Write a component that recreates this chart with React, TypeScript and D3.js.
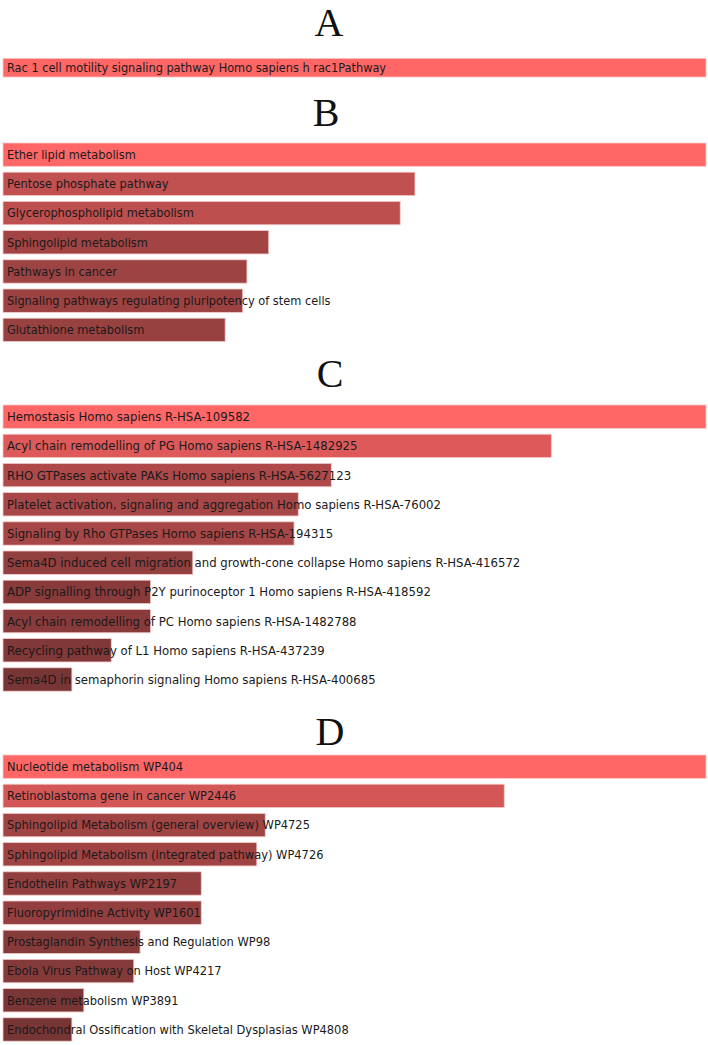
import React, { useEffect, useRef } from "react"
import * as d3 from "d3"

// panel titles
const panelTitles = ["A", "B", "C", "D"]

// A
const aLabels = ["Rac 1 cell motility signaling pathway Homo sapiens h rac1Pathway"]
const aValues = [1.0]

// B
const bLabels = [
  "Ether lipid metabolism",
  "Pentose phosphate pathway",
  "Glycerophospholipid metabolism",
  "Sphingolipid metabolism",
  "Pathways in cancer",
  "Signaling pathways regulating pluripotency of stem cells",
  "Glutathione metabolism",
]
const bValues = [1.0, 0.586, 0.565, 0.378, 0.347, 0.341, 0.316]

// C
const cLabels = [
  "Hemostasis Homo sapiens R-HSA-109582",
  "Acyl chain remodelling of PG Homo sapiens R-HSA-1482925",
  "RHO GTPases activate PAKs Homo sapiens R-HSA-5627123",
  "Platelet activation, signaling and aggregation Homo sapiens R-HSA-76002",
  "Signaling by Rho GTPases Homo sapiens R-HSA-194315",
  "Sema4D induced cell migration and growth-cone collapse Homo sapiens R-HSA-416572",
  "ADP signalling through P2Y purinoceptor 1 Homo sapiens R-HSA-418592",
  "Acyl chain remodelling of PC Homo sapiens R-HSA-1482788",
  "Recycling pathway of L1 Homo sapiens R-HSA-437239",
  "Sema4D in semaphorin signaling Homo sapiens R-HSA-400685",
]
const cValues = [1.0, 0.78, 0.467, 0.42, 0.414, 0.27, 0.21, 0.21, 0.154, 0.098]

// D
const dLabels = [
  "Nucleotide metabolism WP404",
  "Retinoblastoma gene in cancer WP2446",
  "Sphingolipid Metabolism (general overview) WP4725",
  "Sphingolipid Metabolism (integrated pathway) WP4726",
  "Endothelin Pathways WP2197",
  "Fluoropyrimidine Activity WP1601",
  "Prostaglandin Synthesis and Regulation WP98",
  "Ebola Virus Pathway on Host WP4217",
  "Benzene metabolism WP3891",
  "Endochondral Ossification with Skeletal Dysplasias WP4808",
]
const dValues = [1.0, 0.713, 0.373, 0.361, 0.282, 0.282, 0.195, 0.186, 0.115, 0.098]

const W = 708
const H = 1045

function App() {
  const svgRef = useRef(null)

  useEffect(() => {
    const svg = d3.select(svgRef.current)
    svg.selectAll("*").remove()

    // sx squeezes DejaVu horizontally so it runs about as wide as the original font
    const panels = [
      { labels: aLabels, values: aValues, titleY: 36, titleX: 329, top: 56, fs: 12, sx: 0.945 },
      { labels: bLabels, values: bValues, titleY: 126, titleX: 326, top: 143, fs: 12, sx: 0.95 },
      { labels: cLabels, values: cValues, titleY: 387, titleX: 330, top: 405, fs: 12.8, sx: 0.915 },
      { labels: dLabels, values: dValues, titleY: 745, titleX: 330, top: 755, fs: 12, sx: 0.955 },
    ]

    const STEP = 29.2
    const x = d3.scaleLinear().domain([0, 1]).range([3, 706])
    const color = d3.scaleLinear<string>().domain([0, 1]).range(["#693030", "#ff6666"])

    panels.forEach((p, pi) => {
      const g = svg.append("g")

      g.append("text")
        .attr("x", p.titleX)
        .attr("y", p.titleY)
        .attr("text-anchor", "middle")
        .attr("font-family", "'Liberation Serif', serif")
        .attr("font-size", 40)
        .attr("fill", "#111")
        .text(panelTitles[pi])

      const y = d3.scaleBand()
        .domain(p.labels)
        .range([p.top, p.top + STEP * (p.labels.length - 0.2)])
        .paddingInner(0.2)
        .paddingOuter(0)

      const rows = g.selectAll(".row")
        .data(p.labels.map((l, i) => ({ label: l, value: p.values[i] })))
        .enter().append("g")
          .attr("class", "row")

      rows.append("rect")
        .attr("x", x(0))
        .attr("y", d => y(d.label))
        .attr("width", d => x(d.value) - x(0))
        .attr("height", y.bandwidth())
        .attr("fill", d => color(d.value))
        .attr("stroke", "#f3c9c9")
        .attr("stroke-width", 0.8)

      rows.append("text")
        .attr("transform", d =>
          `translate(${x(0) + 4},${y(d.label) + y.bandwidth() / 2}) scale(${p.sx},1)`)
        .attr("dy", "0.36em")
        .attr("font-family", "'DejaVu Sans', sans-serif")
        .attr("font-size", p.fs)
        .attr("fill", "#1a1a1a")
        .text(d => d.label)
    })
  }, [])

  return (
    <svg
      ref={svgRef}
      width={W}
      height={H}
      style={{ position: "absolute", left: 0, top: 0, background: "#fff" }}
    ></svg>
  )
}

export default App
